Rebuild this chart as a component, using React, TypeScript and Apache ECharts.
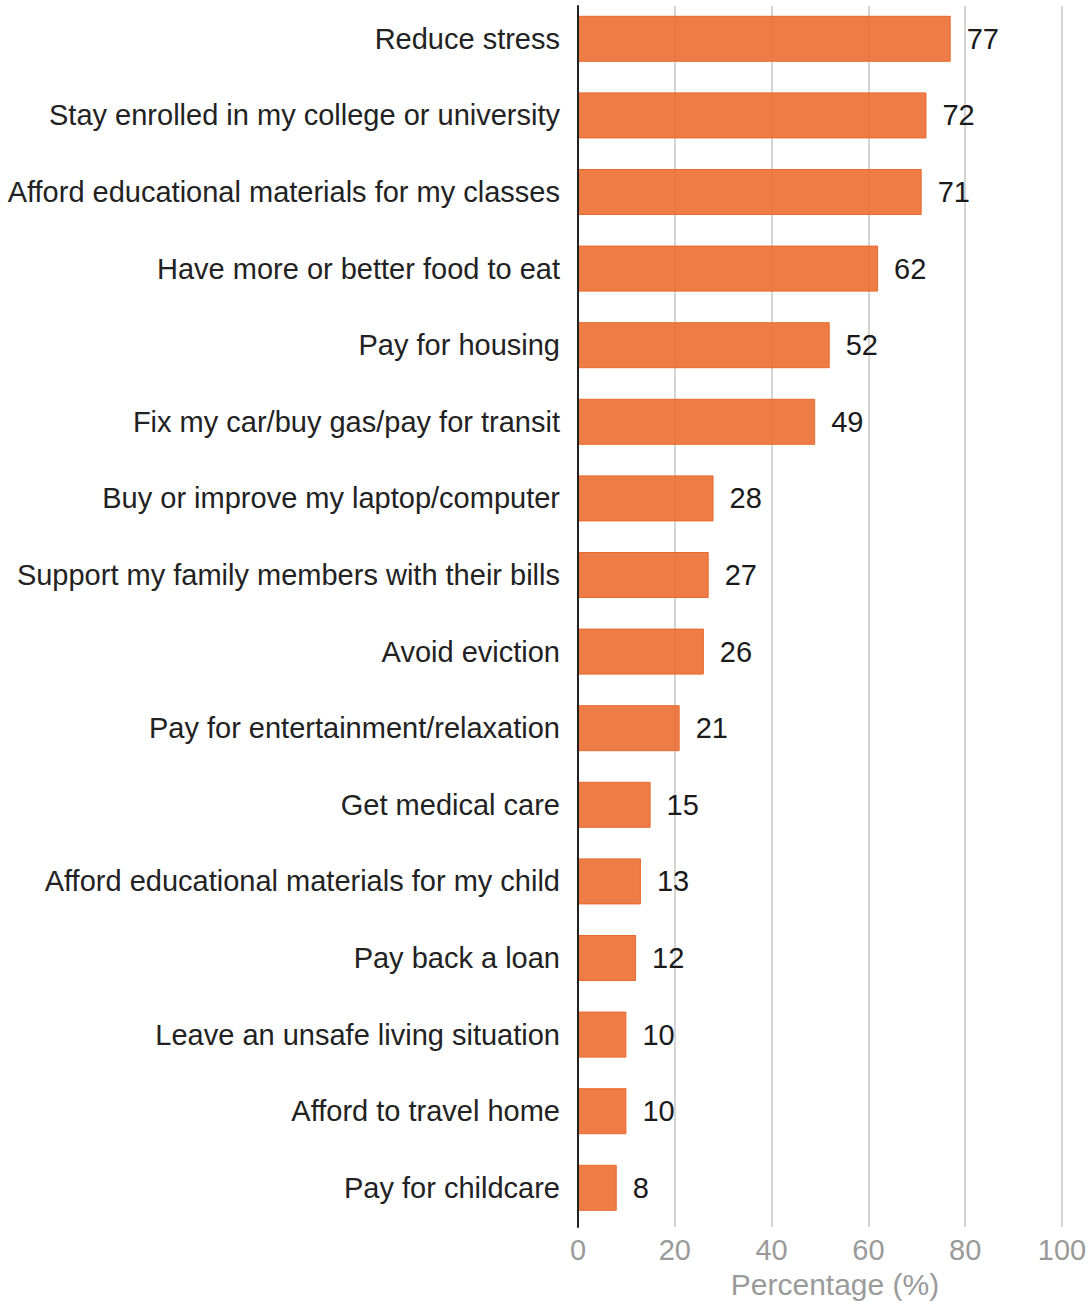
import React, { useEffect, useRef } from "react";
import * as echarts from "echarts";

const categories = [
  "Reduce stress",
  "Stay enrolled in my college or university",
  "Afford educational materials for my classes",
  "Have more or better food to eat",
  "Pay for housing",
  "Fix my car/buy gas/pay for transit",
  "Buy or improve my laptop/computer",
  "Support my family members with their bills",
  "Avoid eviction",
  "Pay for entertainment/relaxation",
  "Get medical care",
  "Afford educational materials for my child",
  "Pay back a loan",
  "Leave an unsafe living situation",
  "Afford to travel home",
  "Pay for childcare",
];
const values = [77, 72, 71, 62, 52, 49, 28, 27, 26, 21, 15, 13, 12, 10, 10, 8];
const axisName = "Percentage (%)";

const FONT = "'Liberation Sans', Arial, sans-serif";

export default function App() {
  const ref = useRef<HTMLDivElement>(null);
  useEffect(() => {
    if (!ref.current) return;
    const chart = echarts.init(ref.current, null, { renderer: "svg" });
    chart.setOption({
      animation: false,
      textStyle: { fontFamily: FONT },
      grid: [
        { left: 578, right: 28, top: 0.5, height: 1233, containLabel: false },
        { left: 578, right: 28, top: 6, height: 1221, containLabel: false },
      ],
      xAxis: [
        {
          type: "value",
          gridIndex: 0,
          min: 0,
          max: 100,
          interval: 20,
          name: axisName,
          nameLocation: "middle",
          nameGap: 42,
          nameTextStyle: { color: "#9a9a9a", fontSize: 30, fontFamily: FONT, padding: [0, 0, 0, 30] },
          axisLine: { show: false },
          axisTick: { show: false },
          axisLabel: { color: "#9a9a9a", fontSize: 29, fontFamily: FONT, margin: 9 },
          splitLine: { show: false },
        },
        {
          type: "value",
          gridIndex: 1,
          min: 0,
          max: 100,
          interval: 20,
          axisLine: { show: false },
          axisTick: { show: false },
          axisLabel: { show: false },
          splitLine: { show: true, lineStyle: { color: "#d4d4d4", width: 2 } },
          z: 0,
        },
      ],
      yAxis: [
        {
          type: "category",
          gridIndex: 0,
          data: categories,
          inverse: true,
          axisLine: { show: false },
          axisTick: { show: false },
          axisLabel: { color: "#222", fontSize: 29, fontFamily: FONT, margin: 18 },
          splitLine: { show: false },
        },
        {
          type: "value",
          gridIndex: 1,
          min: 0,
          max: 1,
          axisLine: { show: true, lineStyle: { color: "#222", width: 2 } },
          axisTick: { show: false },
          axisLabel: { show: false },
          splitLine: { show: false },
          z: 5,
        },
      ],
      series: [
        {
          type: "bar",
          xAxisIndex: 0,
          yAxisIndex: 0,
          data: values,
          barWidth: 46,
          z: 3,
          itemStyle: { color: "rgba(236,110,50,0.9)", borderColor: "#E8692C", borderWidth: 1 },
          label: {
            show: true,
            position: "right",
            distance: 16,
            color: "#1a1a1a",
            fontSize: 29,
            fontFamily: FONT,
          },
        },
      ],
    });
    return () => chart.dispose();
  }, []);
  return (
    <div
      ref={ref}
      style={{ position: "absolute", left: 0, top: 0, width: 1090, height: 1304, background: "#fff" }}
    />
  );
}
